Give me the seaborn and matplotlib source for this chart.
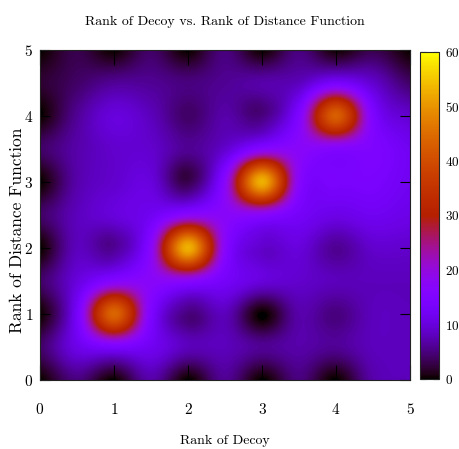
import matplotlib
matplotlib.use("Agg")
import matplotlib.pyplot as plt
import seaborn as sns
import numpy as np

# sample positions on both axes (half-rank steps)
ranks = [0, 0.5, 1, 1.5, 2, 2.5, 3, 3.5, 4, 4.5, 5]

# surface values, one list per "Rank of Distance Function" row
z_y00 = [0, 5, 0, 7, 0, 6, 0, 5, 0, 7, 8]
z_y05 = [4, 11, 14, 12, 8, 8, 6, 7, 6, 8, 8]
z_y10 = [0, 13, 44, 15, 5, 8, 0, 7, 5, 8, 8]
z_y15 = [4, 10, 16, 17, 17, 13, 10, 9, 8, 8, 8]
z_y20 = [0, 8, 6, 17, 53, 17, 9, 10, 6, 9, 9]
z_y25 = [4, 8, 10, 12, 17, 17, 17, 13, 11, 12, 11]
z_y30 = [0, 7, 9, 10, 3, 17, 53, 17, 14, 14, 12]
z_y35 = [4, 7, 9, 9, 6, 9, 16, 17, 16, 15, 12]
z_y40 = [0, 6, 10, 8, 4, 7, 5, 15, 43, 15, 9]
z_y45 = [2, 4, 6, 6, 5, 6, 7, 8, 13, 9, 4]
z_y50 = [0, 3, 0, 4, 0, 5, 0, 5, 0, 3, 0]

tick_values = [0, 1, 2, 3, 4, 5]
cbar_ticks = [0, 10, 20, 30, 40, 50, 60]

sns.set_theme(style="ticks")
plt.rcParams["font.family"] = ["cmr10", "DejaVu Serif"]
plt.rcParams["mathtext.fontset"] = "cm"
plt.rcParams["axes.formatter.use_mathtext"] = True
for key in ["text.color", "axes.labelcolor", "xtick.color", "ytick.color"]:
    plt.rcParams[key] = "black"

grid = np.array([z_y00, z_y05, z_y10, z_y15, z_y20, z_y25,
                 z_y30, z_y35, z_y40, z_y45, z_y50], dtype=float)
half = (ranks[1] - ranks[0]) / 2

fig = plt.figure(figsize=(4.59, 4.49), dpi=100)
ax = fig.add_axes([40 / 459, 1 - 380 / 449, 370 / 459, 330 / 449])
cax = fig.add_axes([420 / 459, 1 - 379 / 449, 19 / 459, 327 / 449])

# smooth rendering of the sampled surface (like gnuplot pm3d interpolate)
im = ax.imshow(grid, origin="lower", cmap="gnuplot", vmin=0, vmax=60,
               interpolation="catrom", interpolation_stage="data",
               aspect="auto",
               extent=[ranks[0] - half, ranks[-1] + half,
                       ranks[0] - half, ranks[-1] + half])
ax.set_xlim(0, 5)
ax.set_ylim(0, 5)
ax.set_xticks(tick_values)
ax.set_yticks(tick_values)
ax.tick_params(axis="x", direction="in", top=True, bottom=True, length=11,
               width=0.8, pad=16, labelsize=11)
ax.tick_params(axis="y", direction="in", left=True, right=True, length=7.5,
               width=0.8, pad=5, labelsize=11)
for s in ax.spines.values():
    s.set_linewidth(0.8)
    s.set_color("#222222")

ax.set_title("Rank of Decoy vs. Rank of Distance Function", fontsize=10,
             pad=18)
ax.set_xlabel("Rank of Decoy", fontsize=10)
ax.xaxis.set_label_coords(0.5, -0.165)
ax.set_ylabel("Rank of Distance Function", fontsize=12.5)
ax.yaxis.set_label_coords(-0.04, 0.455)

cb = fig.colorbar(im, cax=cax)
cb.set_ticks(cbar_ticks)
cb.outline.set_linewidth(0.8)
cax.tick_params(direction="in", left=True, right=True, length=4.5, width=0.8,
                labelsize=9.5, pad=4)

fig.savefig("out.png", dpi=100)
